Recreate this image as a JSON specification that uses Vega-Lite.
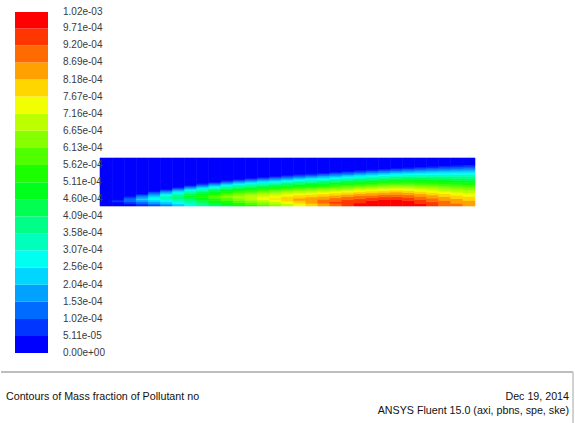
{
"$schema": "https://vega.github.io/schema/vega-lite/v6.json",
"width": 575, "height": 423,
"autosize": {"type": "fit", "contains": "padding"},
"padding": 0,
"background": "white",
"config": {"view": {"stroke": null}},
"datasets": {
"field": [
{"x":6,"lo":0,"hi":48,"no":2.6e-5},
{"x":18,"lo":0,"hi":4,"no":2.6e-5},{"x":18,"lo":4,"hi":6,"no":7.7e-5},{"x":18,"lo":6,"hi":48,"no":2.6e-5},
{"x":30,"lo":0,"hi":2.1,"no":2.6e-5},{"x":30,"lo":2.1,"hi":4.3,"no":7.7e-5},{"x":30,"lo":4.3,"hi":8,"no":1.28e-4},{"x":30,"lo":8,"hi":9.5,"no":7.7e-5},{"x":30,"lo":9.5,"hi":48,"no":2.6e-5},
{"x":42,"lo":0,"hi":0.7,"no":2.6e-5},{"x":42,"lo":0.7,"hi":2.5,"no":7.7e-5},{"x":42,"lo":2.5,"hi":4.3,"no":1.28e-4},{"x":42,"lo":4.3,"hi":6.1,"no":1.79e-4},{"x":42,"lo":6.1,"hi":7.4,"no":2.3e-4},{"x":42,"lo":7.4,"hi":9.4,"no":1.79e-4},{"x":42,"lo":9.4,"hi":10.8,"no":1.28e-4},{"x":42,"lo":10.8,"hi":12,"no":7.7e-5},{"x":42,"lo":12,"hi":48,"no":2.6e-5},
{"x":54,"lo":0,"hi":0.9,"no":7.7e-5},{"x":54,"lo":0.9,"hi":2.6,"no":1.28e-4},{"x":54,"lo":2.6,"hi":4.4,"no":1.79e-4},{"x":54,"lo":4.4,"hi":6.1,"no":2.3e-4},{"x":54,"lo":6.1,"hi":8.7,"no":2.82e-4},{"x":54,"lo":8.7,"hi":10.6,"no":2.3e-4},{"x":54,"lo":10.6,"hi":12.1,"no":1.79e-4},{"x":54,"lo":12.1,"hi":13.4,"no":1.28e-4},{"x":54,"lo":13.4,"hi":14.5,"no":7.7e-5},{"x":54,"lo":14.5,"hi":48,"no":2.6e-5},
{"x":66,"lo":0,"hi":0.9,"no":1.28e-4},{"x":66,"lo":0.9,"hi":2.8,"no":1.79e-4},{"x":66,"lo":2.8,"hi":4.7,"no":2.3e-4},{"x":66,"lo":4.7,"hi":6.5,"no":2.82e-4},{"x":66,"lo":6.5,"hi":10.3,"no":3.33e-4},{"x":66,"lo":10.3,"hi":11.9,"no":2.82e-4},{"x":66,"lo":11.9,"hi":13.2,"no":2.3e-4},{"x":66,"lo":13.2,"hi":14.4,"no":1.79e-4},{"x":66,"lo":14.4,"hi":15.5,"no":1.28e-4},{"x":66,"lo":15.5,"hi":16.5,"no":7.7e-5},{"x":66,"lo":16.5,"hi":48,"no":2.6e-5},
{"x":78,"lo":0,"hi":0.6,"no":1.79e-4},{"x":78,"lo":0.6,"hi":2.5,"no":2.3e-4},{"x":78,"lo":2.5,"hi":4.4,"no":2.82e-4},{"x":78,"lo":4.4,"hi":6.4,"no":3.33e-4},{"x":78,"lo":6.4,"hi":8.3,"no":3.84e-4},{"x":78,"lo":8.3,"hi":9.1,"no":4.35e-4},{"x":78,"lo":9.1,"hi":11.4,"no":3.84e-4},{"x":78,"lo":11.4,"hi":12.9,"no":3.33e-4},{"x":78,"lo":12.9,"hi":14.3,"no":2.82e-4},{"x":78,"lo":14.3,"hi":15.4,"no":2.3e-4},{"x":78,"lo":15.4,"hi":16.5,"no":1.79e-4},{"x":78,"lo":16.5,"hi":17.5,"no":1.28e-4},{"x":78,"lo":17.5,"hi":18.5,"no":7.7e-5},{"x":78,"lo":18.5,"hi":48,"no":2.6e-5},
{"x":90,"lo":0,"hi":2.1,"no":2.82e-4},{"x":90,"lo":2.1,"hi":4.2,"no":3.33e-4},{"x":90,"lo":4.2,"hi":6.3,"no":3.84e-4},{"x":90,"lo":6.3,"hi":8.4,"no":4.35e-4},{"x":90,"lo":8.4,"hi":10.3,"no":4.86e-4},{"x":90,"lo":10.3,"hi":12.4,"no":4.35e-4},{"x":90,"lo":12.4,"hi":13.9,"no":3.84e-4},{"x":90,"lo":13.9,"hi":15.2,"no":3.33e-4},{"x":90,"lo":15.2,"hi":16.4,"no":2.82e-4},{"x":90,"lo":16.4,"hi":17.5,"no":2.3e-4},{"x":90,"lo":17.5,"hi":18.6,"no":1.79e-4},{"x":90,"lo":18.6,"hi":19.6,"no":1.28e-4},{"x":90,"lo":19.6,"hi":20.5,"no":7.7e-5},{"x":90,"lo":20.5,"hi":48,"no":2.6e-5},
{"x":102,"lo":0,"hi":1.2,"no":3.33e-4},{"x":102,"lo":1.2,"hi":3.5,"no":3.84e-4},{"x":102,"lo":3.5,"hi":5.8,"no":4.35e-4},{"x":102,"lo":5.8,"hi":8.1,"no":4.86e-4},{"x":102,"lo":8.1,"hi":10.6,"no":5.37e-4},{"x":102,"lo":10.6,"hi":12.7,"no":4.86e-4},{"x":102,"lo":12.7,"hi":14.3,"no":4.35e-4},{"x":102,"lo":14.3,"hi":15.7,"no":3.84e-4},{"x":102,"lo":15.7,"hi":17,"no":3.33e-4},{"x":102,"lo":17,"hi":18.1,"no":2.82e-4},{"x":102,"lo":18.1,"hi":19.2,"no":2.3e-4},{"x":102,"lo":19.2,"hi":20.3,"no":1.79e-4},{"x":102,"lo":20.3,"hi":21.3,"no":1.28e-4},{"x":102,"lo":21.3,"hi":22.2,"no":7.7e-5},{"x":102,"lo":22.2,"hi":48,"no":2.6e-5},
{"x":114,"lo":0,"hi":0.5,"no":3.84e-4},{"x":114,"lo":0.5,"hi":2.9,"no":4.35e-4},{"x":114,"lo":2.9,"hi":5.4,"no":4.86e-4},{"x":114,"lo":5.4,"hi":7.8,"no":5.37e-4},{"x":114,"lo":7.8,"hi":11,"no":5.88e-4},{"x":114,"lo":11,"hi":13,"no":5.37e-4},{"x":114,"lo":13,"hi":14.7,"no":4.86e-4},{"x":114,"lo":14.7,"hi":16.1,"no":4.35e-4},{"x":114,"lo":16.1,"hi":17.4,"no":3.84e-4},{"x":114,"lo":17.4,"hi":18.6,"no":3.33e-4},{"x":114,"lo":18.6,"hi":19.7,"no":2.82e-4},{"x":114,"lo":19.7,"hi":20.8,"no":2.3e-4},{"x":114,"lo":20.8,"hi":21.9,"no":1.79e-4},{"x":114,"lo":21.9,"hi":22.9,"no":1.28e-4},{"x":114,"lo":22.9,"hi":23.8,"no":7.7e-5},{"x":114,"lo":23.8,"hi":48,"no":2.6e-5},
{"x":126,"lo":0,"hi":0.5,"no":4.35e-4},{"x":126,"lo":0.5,"hi":3,"no":4.86e-4},{"x":126,"lo":3,"hi":5.5,"no":5.37e-4},{"x":126,"lo":5.5,"hi":8,"no":5.88e-4},{"x":126,"lo":8,"hi":10.7,"no":6.39e-4},{"x":126,"lo":10.7,"hi":13,"no":5.88e-4},{"x":126,"lo":13,"hi":14.8,"no":5.37e-4},{"x":126,"lo":14.8,"hi":16.3,"no":4.86e-4},{"x":126,"lo":16.3,"hi":17.6,"no":4.35e-4},{"x":126,"lo":17.6,"hi":18.9,"no":3.84e-4},{"x":126,"lo":18.9,"hi":20.1,"no":3.33e-4},{"x":126,"lo":20.1,"hi":21.2,"no":2.82e-4},{"x":126,"lo":21.2,"hi":22.3,"no":2.3e-4},{"x":126,"lo":22.3,"hi":23.3,"no":1.79e-4},{"x":126,"lo":23.3,"hi":24.3,"no":1.28e-4},{"x":126,"lo":24.3,"hi":25.3,"no":7.7e-5},{"x":126,"lo":25.3,"hi":48,"no":2.6e-5},
{"x":138,"lo":0,"hi":0.9,"no":4.86e-4},{"x":138,"lo":0.9,"hi":3.3,"no":5.37e-4},{"x":138,"lo":3.3,"hi":5.7,"no":5.88e-4},{"x":138,"lo":5.7,"hi":8,"no":6.39e-4},{"x":138,"lo":8,"hi":9.7,"no":6.9e-4},{"x":138,"lo":9.7,"hi":12.3,"no":6.39e-4},{"x":138,"lo":12.3,"hi":14.2,"no":5.88e-4},{"x":138,"lo":14.2,"hi":15.9,"no":5.37e-4},{"x":138,"lo":15.9,"hi":17.3,"no":4.86e-4},{"x":138,"lo":17.3,"hi":18.7,"no":4.35e-4},{"x":138,"lo":18.7,"hi":20,"no":3.84e-4},{"x":138,"lo":20,"hi":21.2,"no":3.33e-4},{"x":138,"lo":21.2,"hi":22.3,"no":2.82e-4},{"x":138,"lo":22.3,"hi":23.4,"no":2.3e-4},{"x":138,"lo":23.4,"hi":24.5,"no":1.79e-4},{"x":138,"lo":24.5,"hi":25.5,"no":1.28e-4},{"x":138,"lo":25.5,"hi":26.5,"no":7.7e-5},{"x":138,"lo":26.5,"hi":48,"no":2.6e-5},
{"x":150,"lo":0,"hi":1.4,"no":5.37e-4},{"x":150,"lo":1.4,"hi":3.7,"no":5.88e-4},{"x":150,"lo":3.7,"hi":5.9,"no":6.39e-4},{"x":150,"lo":5.9,"hi":11.3,"no":6.9e-4},{"x":150,"lo":11.3,"hi":13.5,"no":6.39e-4},{"x":150,"lo":13.5,"hi":15.3,"no":5.88e-4},{"x":150,"lo":15.3,"hi":16.8,"no":5.37e-4},{"x":150,"lo":16.8,"hi":18.3,"no":4.86e-4},{"x":150,"lo":18.3,"hi":19.6,"no":4.35e-4},{"x":150,"lo":19.6,"hi":20.9,"no":3.84e-4},{"x":150,"lo":20.9,"hi":22.1,"no":3.33e-4},{"x":150,"lo":22.1,"hi":23.3,"no":2.82e-4},{"x":150,"lo":23.3,"hi":24.4,"no":2.3e-4},{"x":150,"lo":24.4,"hi":25.5,"no":1.79e-4},{"x":150,"lo":25.5,"hi":26.6,"no":1.28e-4},{"x":150,"lo":26.6,"hi":27.6,"no":7.7e-5},{"x":150,"lo":27.6,"hi":48,"no":2.6e-5},
{"x":162,"lo":0,"hi":1.6,"no":5.88e-4},{"x":162,"lo":1.6,"hi":4,"no":6.39e-4},{"x":162,"lo":4,"hi":6.3,"no":6.9e-4},{"x":162,"lo":6.3,"hi":9.8,"no":7.42e-4},{"x":162,"lo":9.8,"hi":12.4,"no":6.9e-4},{"x":162,"lo":12.4,"hi":14.4,"no":6.39e-4},{"x":162,"lo":14.4,"hi":16.1,"no":5.88e-4},{"x":162,"lo":16.1,"hi":17.6,"no":5.37e-4},{"x":162,"lo":17.6,"hi":19.1,"no":4.86e-4},{"x":162,"lo":19.1,"hi":20.5,"no":4.35e-4},{"x":162,"lo":20.5,"hi":21.8,"no":3.84e-4},{"x":162,"lo":21.8,"hi":23,"no":3.33e-4},{"x":162,"lo":23,"hi":24.2,"no":2.82e-4},{"x":162,"lo":24.2,"hi":25.4,"no":2.3e-4},{"x":162,"lo":25.4,"hi":26.5,"no":1.79e-4},{"x":162,"lo":26.5,"hi":27.6,"no":1.28e-4},{"x":162,"lo":27.6,"hi":28.6,"no":7.7e-5},{"x":162,"lo":28.6,"hi":48,"no":2.6e-5},
{"x":174,"lo":0,"hi":1.9,"no":6.39e-4},{"x":174,"lo":1.9,"hi":4.3,"no":6.9e-4},{"x":174,"lo":4.3,"hi":6.8,"no":7.42e-4},{"x":174,"lo":6.8,"hi":7.8,"no":7.93e-4},{"x":174,"lo":7.8,"hi":11.1,"no":7.42e-4},{"x":174,"lo":11.1,"hi":13.3,"no":6.9e-4},{"x":174,"lo":13.3,"hi":15.2,"no":6.39e-4},{"x":174,"lo":15.2,"hi":16.9,"no":5.88e-4},{"x":174,"lo":16.9,"hi":18.4,"no":5.37e-4},{"x":174,"lo":18.4,"hi":19.9,"no":4.86e-4},{"x":174,"lo":19.9,"hi":21.2,"no":4.35e-4},{"x":174,"lo":21.2,"hi":22.6,"no":3.84e-4},{"x":174,"lo":22.6,"hi":23.8,"no":3.33e-4},{"x":174,"lo":23.8,"hi":25,"no":2.82e-4},{"x":174,"lo":25,"hi":26.2,"no":2.3e-4},{"x":174,"lo":26.2,"hi":27.3,"no":1.79e-4},{"x":174,"lo":27.3,"hi":28.4,"no":1.28e-4},{"x":174,"lo":28.4,"hi":29.5,"no":7.7e-5},{"x":174,"lo":29.5,"hi":48,"no":2.6e-5},
{"x":186,"lo":0,"hi":2.3,"no":6.9e-4},{"x":186,"lo":2.3,"hi":4.8,"no":7.42e-4},{"x":186,"lo":4.8,"hi":9.7,"no":7.93e-4},{"x":186,"lo":9.7,"hi":12.2,"no":7.42e-4},{"x":186,"lo":12.2,"hi":14.2,"no":6.9e-4},{"x":186,"lo":14.2,"hi":16,"no":6.39e-4},{"x":186,"lo":16,"hi":17.7,"no":5.88e-4},{"x":186,"lo":17.7,"hi":19.2,"no":5.37e-4},{"x":186,"lo":19.2,"hi":20.7,"no":4.86e-4},{"x":186,"lo":20.7,"hi":22,"no":4.35e-4},{"x":186,"lo":22,"hi":23.4,"no":3.84e-4},{"x":186,"lo":23.4,"hi":24.6,"no":3.33e-4},{"x":186,"lo":24.6,"hi":25.8,"no":2.82e-4},{"x":186,"lo":25.8,"hi":27,"no":2.3e-4},{"x":186,"lo":27,"hi":28.2,"no":1.79e-4},{"x":186,"lo":28.2,"hi":29.3,"no":1.28e-4},{"x":186,"lo":29.3,"hi":30.4,"no":7.7e-5},{"x":186,"lo":30.4,"hi":48,"no":2.6e-5},
{"x":198,"lo":0,"hi":2.6,"no":7.42e-4},{"x":198,"lo":2.6,"hi":5.2,"no":7.93e-4},{"x":198,"lo":5.2,"hi":7.9,"no":8.44e-4},{"x":198,"lo":7.9,"hi":10.9,"no":7.93e-4},{"x":198,"lo":10.9,"hi":13.2,"no":7.42e-4},{"x":198,"lo":13.2,"hi":15.1,"no":6.9e-4},{"x":198,"lo":15.1,"hi":16.9,"no":6.39e-4},{"x":198,"lo":16.9,"hi":18.5,"no":5.88e-4},{"x":198,"lo":18.5,"hi":20,"no":5.37e-4},{"x":198,"lo":20,"hi":21.5,"no":4.86e-4},{"x":198,"lo":21.5,"hi":22.8,"no":4.35e-4},{"x":198,"lo":22.8,"hi":24.2,"no":3.84e-4},{"x":198,"lo":24.2,"hi":25.4,"no":3.33e-4},{"x":198,"lo":25.4,"hi":26.7,"no":2.82e-4},{"x":198,"lo":26.7,"hi":27.9,"no":2.3e-4},{"x":198,"lo":27.9,"hi":29.1,"no":1.79e-4},{"x":198,"lo":29.1,"hi":30.2,"no":1.28e-4},{"x":198,"lo":30.2,"hi":31.3,"no":7.7e-5},{"x":198,"lo":31.3,"hi":48,"no":2.6e-5},
{"x":210,"lo":0,"hi":2.6,"no":7.93e-4},{"x":210,"lo":2.6,"hi":9,"no":8.44e-4},{"x":210,"lo":9,"hi":11.6,"no":7.93e-4},{"x":210,"lo":11.6,"hi":13.7,"no":7.42e-4},{"x":210,"lo":13.7,"hi":15.6,"no":6.9e-4},{"x":210,"lo":15.6,"hi":17.4,"no":6.39e-4},{"x":210,"lo":17.4,"hi":19,"no":5.88e-4},{"x":210,"lo":19,"hi":20.5,"no":5.37e-4},{"x":210,"lo":20.5,"hi":22,"no":4.86e-4},{"x":210,"lo":22,"hi":23.4,"no":4.35e-4},{"x":210,"lo":23.4,"hi":24.8,"no":3.84e-4},{"x":210,"lo":24.8,"hi":26.1,"no":3.33e-4},{"x":210,"lo":26.1,"hi":27.3,"no":2.82e-4},{"x":210,"lo":27.3,"hi":28.6,"no":2.3e-4},{"x":210,"lo":28.6,"hi":29.8,"no":1.79e-4},{"x":210,"lo":29.8,"hi":30.9,"no":1.28e-4},{"x":210,"lo":30.9,"hi":32.1,"no":7.7e-5},{"x":210,"lo":32.1,"hi":48,"no":2.6e-5},
{"x":222,"lo":0,"hi":2.7,"no":8.44e-4},{"x":222,"lo":2.7,"hi":6.8,"no":8.95e-4},{"x":222,"lo":6.8,"hi":9.8,"no":8.44e-4},{"x":222,"lo":9.8,"hi":12.2,"no":7.93e-4},{"x":222,"lo":12.2,"hi":14.3,"no":7.42e-4},{"x":222,"lo":14.3,"hi":16.2,"no":6.9e-4},{"x":222,"lo":16.2,"hi":17.9,"no":6.39e-4},{"x":222,"lo":17.9,"hi":19.5,"no":5.88e-4},{"x":222,"lo":19.5,"hi":21.1,"no":5.37e-4},{"x":222,"lo":21.1,"hi":22.6,"no":4.86e-4},{"x":222,"lo":22.6,"hi":24,"no":4.35e-4},{"x":222,"lo":24,"hi":25.4,"no":3.84e-4},{"x":222,"lo":25.4,"hi":26.7,"no":3.33e-4},{"x":222,"lo":26.7,"hi":28,"no":2.82e-4},{"x":222,"lo":28,"hi":29.3,"no":2.3e-4},{"x":222,"lo":29.3,"hi":30.5,"no":1.79e-4},{"x":222,"lo":30.5,"hi":31.7,"no":1.28e-4},{"x":222,"lo":31.7,"hi":32.9,"no":7.7e-5},{"x":222,"lo":32.9,"hi":48,"no":2.6e-5},
{"x":234,"lo":0,"hi":2.5,"no":8.95e-4},{"x":234,"lo":2.5,"hi":4.6,"no":9.46e-4},{"x":234,"lo":4.6,"hi":8.2,"no":8.95e-4},{"x":234,"lo":8.2,"hi":10.8,"no":8.44e-4},{"x":234,"lo":10.8,"hi":13,"no":7.93e-4},{"x":234,"lo":13,"hi":15,"no":7.42e-4},{"x":234,"lo":15,"hi":16.8,"no":6.9e-4},{"x":234,"lo":16.8,"hi":18.5,"no":6.39e-4},{"x":234,"lo":18.5,"hi":20.2,"no":5.88e-4},{"x":234,"lo":20.2,"hi":21.8,"no":5.37e-4},{"x":234,"lo":21.8,"hi":23.2,"no":4.86e-4},{"x":234,"lo":23.2,"hi":24.7,"no":4.35e-4},{"x":234,"lo":24.7,"hi":26.1,"no":3.84e-4},{"x":234,"lo":26.1,"hi":27.4,"no":3.33e-4},{"x":234,"lo":27.4,"hi":28.7,"no":2.82e-4},{"x":234,"lo":28.7,"hi":30,"no":2.3e-4},{"x":234,"lo":30,"hi":31.3,"no":1.79e-4},{"x":234,"lo":31.3,"hi":32.5,"no":1.28e-4},{"x":234,"lo":32.5,"hi":33.7,"no":7.7e-5},{"x":234,"lo":33.7,"hi":48,"no":2.6e-5},
{"x":246,"lo":0,"hi":6.4,"no":9.46e-4},{"x":246,"lo":6.4,"hi":9.3,"no":8.95e-4},{"x":246,"lo":9.3,"hi":11.7,"no":8.44e-4},{"x":246,"lo":11.7,"hi":13.8,"no":7.93e-4},{"x":246,"lo":13.8,"hi":15.7,"no":7.42e-4},{"x":246,"lo":15.7,"hi":17.5,"no":6.9e-4},{"x":246,"lo":17.5,"hi":19.2,"no":6.39e-4},{"x":246,"lo":19.2,"hi":20.8,"no":5.88e-4},{"x":246,"lo":20.8,"hi":22.4,"no":5.37e-4},{"x":246,"lo":22.4,"hi":23.9,"no":4.86e-4},{"x":246,"lo":23.9,"hi":25.3,"no":4.35e-4},{"x":246,"lo":25.3,"hi":26.8,"no":3.84e-4},{"x":246,"lo":26.8,"hi":28.1,"no":3.33e-4},{"x":246,"lo":28.1,"hi":29.5,"no":2.82e-4},{"x":246,"lo":29.5,"hi":30.8,"no":2.3e-4},{"x":246,"lo":30.8,"hi":32,"no":1.79e-4},{"x":246,"lo":32,"hi":33.3,"no":1.28e-4},{"x":246,"lo":33.3,"hi":34.5,"no":7.7e-5},{"x":246,"lo":34.5,"hi":48,"no":2.6e-5},
{"x":258,"lo":0,"hi":3,"no":9.96e-4},{"x":258,"lo":3,"hi":7.2,"no":9.46e-4},{"x":258,"lo":7.2,"hi":10.3,"no":8.95e-4},{"x":258,"lo":10.3,"hi":12.5,"no":8.44e-4},{"x":258,"lo":12.5,"hi":14.5,"no":7.93e-4},{"x":258,"lo":14.5,"hi":16.4,"no":7.42e-4},{"x":258,"lo":16.4,"hi":18.2,"no":6.9e-4},{"x":258,"lo":18.2,"hi":19.9,"no":6.39e-4},{"x":258,"lo":19.9,"hi":21.5,"no":5.88e-4},{"x":258,"lo":21.5,"hi":23.1,"no":5.37e-4},{"x":258,"lo":23.1,"hi":24.6,"no":4.86e-4},{"x":258,"lo":24.6,"hi":26,"no":4.35e-4},{"x":258,"lo":26,"hi":27.5,"no":3.84e-4},{"x":258,"lo":27.5,"hi":28.9,"no":3.33e-4},{"x":258,"lo":28.9,"hi":30.2,"no":2.82e-4},{"x":258,"lo":30.2,"hi":31.5,"no":2.3e-4},{"x":258,"lo":31.5,"hi":32.8,"no":1.79e-4},{"x":258,"lo":32.8,"hi":34.1,"no":1.28e-4},{"x":258,"lo":34.1,"hi":35.3,"no":7.7e-5},{"x":258,"lo":35.3,"hi":48,"no":2.6e-5},
{"x":270,"lo":0,"hi":5.4,"no":9.96e-4},{"x":270,"lo":5.4,"hi":8.3,"no":9.46e-4},{"x":270,"lo":8.3,"hi":10.7,"no":8.95e-4},{"x":270,"lo":10.7,"hi":13,"no":8.44e-4},{"x":270,"lo":13,"hi":15,"no":7.93e-4},{"x":270,"lo":15,"hi":16.9,"no":7.42e-4},{"x":270,"lo":16.9,"hi":18.7,"no":6.9e-4},{"x":270,"lo":18.7,"hi":20.4,"no":6.39e-4},{"x":270,"lo":20.4,"hi":22,"no":5.88e-4},{"x":270,"lo":22,"hi":23.6,"no":5.37e-4},{"x":270,"lo":23.6,"hi":25.1,"no":4.86e-4},{"x":270,"lo":25.1,"hi":26.6,"no":4.35e-4},{"x":270,"lo":26.6,"hi":28.1,"no":3.84e-4},{"x":270,"lo":28.1,"hi":29.5,"no":3.33e-4},{"x":270,"lo":29.5,"hi":30.9,"no":2.82e-4},{"x":270,"lo":30.9,"hi":32.2,"no":2.3e-4},{"x":270,"lo":32.2,"hi":33.5,"no":1.79e-4},{"x":270,"lo":33.5,"hi":34.8,"no":1.28e-4},{"x":270,"lo":34.8,"hi":36.1,"no":7.7e-5},{"x":270,"lo":36.1,"hi":48,"no":2.6e-5},
{"x":282,"lo":0,"hi":6.4,"no":9.96e-4},{"x":282,"lo":6.4,"hi":9.1,"no":9.46e-4},{"x":282,"lo":9.1,"hi":11.5,"no":8.95e-4},{"x":282,"lo":11.5,"hi":13.7,"no":8.44e-4},{"x":282,"lo":13.7,"hi":15.7,"no":7.93e-4},{"x":282,"lo":15.7,"hi":17.6,"no":7.42e-4},{"x":282,"lo":17.6,"hi":19.4,"no":6.9e-4},{"x":282,"lo":19.4,"hi":21.1,"no":6.39e-4},{"x":282,"lo":21.1,"hi":22.7,"no":5.88e-4},{"x":282,"lo":22.7,"hi":24.3,"no":5.37e-4},{"x":282,"lo":24.3,"hi":25.8,"no":4.86e-4},{"x":282,"lo":25.8,"hi":27.3,"no":4.35e-4},{"x":282,"lo":27.3,"hi":28.8,"no":3.84e-4},{"x":282,"lo":28.8,"hi":30.2,"no":3.33e-4},{"x":282,"lo":30.2,"hi":31.6,"no":2.82e-4},{"x":282,"lo":31.6,"hi":32.9,"no":2.3e-4},{"x":282,"lo":32.9,"hi":34.2,"no":1.79e-4},{"x":282,"lo":34.2,"hi":35.5,"no":1.28e-4},{"x":282,"lo":35.5,"hi":36.8,"no":7.7e-5},{"x":282,"lo":36.8,"hi":48,"no":2.6e-5},
{"x":294,"lo":0,"hi":6.5,"no":9.96e-4},{"x":294,"lo":6.5,"hi":9.3,"no":9.46e-4},{"x":294,"lo":9.3,"hi":11.7,"no":8.95e-4},{"x":294,"lo":11.7,"hi":14,"no":8.44e-4},{"x":294,"lo":14,"hi":16,"no":7.93e-4},{"x":294,"lo":16,"hi":17.9,"no":7.42e-4},{"x":294,"lo":17.9,"hi":19.7,"no":6.9e-4},{"x":294,"lo":19.7,"hi":21.5,"no":6.39e-4},{"x":294,"lo":21.5,"hi":23.1,"no":5.88e-4},{"x":294,"lo":23.1,"hi":24.8,"no":5.37e-4},{"x":294,"lo":24.8,"hi":26.3,"no":4.86e-4},{"x":294,"lo":26.3,"hi":27.8,"no":4.35e-4},{"x":294,"lo":27.8,"hi":29.3,"no":3.84e-4},{"x":294,"lo":29.3,"hi":30.8,"no":3.33e-4},{"x":294,"lo":30.8,"hi":32.2,"no":2.82e-4},{"x":294,"lo":32.2,"hi":33.5,"no":2.3e-4},{"x":294,"lo":33.5,"hi":34.9,"no":1.79e-4},{"x":294,"lo":34.9,"hi":36.2,"no":1.28e-4},{"x":294,"lo":36.2,"hi":37.5,"no":7.7e-5},{"x":294,"lo":37.5,"hi":48,"no":2.6e-5},
{"x":306,"lo":0,"hi":5.3,"no":9.96e-4},{"x":306,"lo":5.3,"hi":8.5,"no":9.46e-4},{"x":306,"lo":8.5,"hi":11.1,"no":8.95e-4},{"x":306,"lo":11.1,"hi":13.5,"no":8.44e-4},{"x":306,"lo":13.5,"hi":15.7,"no":7.93e-4},{"x":306,"lo":15.7,"hi":17.7,"no":7.42e-4},{"x":306,"lo":17.7,"hi":19.6,"no":6.9e-4},{"x":306,"lo":19.6,"hi":21.4,"no":6.39e-4},{"x":306,"lo":21.4,"hi":23.2,"no":5.88e-4},{"x":306,"lo":23.2,"hi":24.8,"no":5.37e-4},{"x":306,"lo":24.8,"hi":26.5,"no":4.86e-4},{"x":306,"lo":26.5,"hi":28,"no":4.35e-4},{"x":306,"lo":28,"hi":29.6,"no":3.84e-4},{"x":306,"lo":29.6,"hi":31.1,"no":3.33e-4},{"x":306,"lo":31.1,"hi":32.5,"no":2.82e-4},{"x":306,"lo":32.5,"hi":34,"no":2.3e-4},{"x":306,"lo":34,"hi":35.4,"no":1.79e-4},{"x":306,"lo":35.4,"hi":36.8,"no":1.28e-4},{"x":306,"lo":36.8,"hi":38.1,"no":7.7e-5},{"x":306,"lo":38.1,"hi":48,"no":2.6e-5},
{"x":318,"lo":0,"hi":2.5,"no":9.96e-4},{"x":318,"lo":2.5,"hi":6.6,"no":9.46e-4},{"x":318,"lo":6.6,"hi":9.7,"no":8.95e-4},{"x":318,"lo":9.7,"hi":12.4,"no":8.44e-4},{"x":318,"lo":12.4,"hi":14.7,"no":7.93e-4},{"x":318,"lo":14.7,"hi":17,"no":7.42e-4},{"x":318,"lo":17,"hi":19,"no":6.9e-4},{"x":318,"lo":19,"hi":21,"no":6.39e-4},{"x":318,"lo":21,"hi":22.8,"no":5.88e-4},{"x":318,"lo":22.8,"hi":24.7,"no":5.37e-4},{"x":318,"lo":24.7,"hi":26.4,"no":4.86e-4},{"x":318,"lo":26.4,"hi":28.1,"no":4.35e-4},{"x":318,"lo":28.1,"hi":29.7,"no":3.84e-4},{"x":318,"lo":29.7,"hi":31.3,"no":3.33e-4},{"x":318,"lo":31.3,"hi":32.8,"no":2.82e-4},{"x":318,"lo":32.8,"hi":34.3,"no":2.3e-4},{"x":318,"lo":34.3,"hi":35.8,"no":1.79e-4},{"x":318,"lo":35.8,"hi":37.3,"no":1.28e-4},{"x":318,"lo":37.3,"hi":38.7,"no":7.7e-5},{"x":318,"lo":38.7,"hi":48,"no":2.6e-5},
{"x":330,"lo":0,"hi":4.1,"no":9.46e-4},{"x":330,"lo":4.1,"hi":7.9,"no":8.95e-4},{"x":330,"lo":7.9,"hi":11,"no":8.44e-4},{"x":330,"lo":11,"hi":13.6,"no":7.93e-4},{"x":330,"lo":13.6,"hi":16.1,"no":7.42e-4},{"x":330,"lo":16.1,"hi":18.3,"no":6.9e-4},{"x":330,"lo":18.3,"hi":20.4,"no":6.39e-4},{"x":330,"lo":20.4,"hi":22.4,"no":5.88e-4},{"x":330,"lo":22.4,"hi":24.4,"no":5.37e-4},{"x":330,"lo":24.4,"hi":26.2,"no":4.86e-4},{"x":330,"lo":26.2,"hi":28,"no":4.35e-4},{"x":330,"lo":28,"hi":29.8,"no":3.84e-4},{"x":330,"lo":29.8,"hi":31.4,"no":3.33e-4},{"x":330,"lo":31.4,"hi":33.1,"no":2.82e-4},{"x":330,"lo":33.1,"hi":34.7,"no":2.3e-4},{"x":330,"lo":34.7,"hi":36.2,"no":1.79e-4},{"x":330,"lo":36.2,"hi":37.8,"no":1.28e-4},{"x":330,"lo":37.8,"hi":39.3,"no":7.7e-5},{"x":330,"lo":39.3,"hi":48,"no":2.6e-5},
{"x":342,"lo":0,"hi":5.6,"no":8.95e-4},{"x":342,"lo":5.6,"hi":9.3,"no":8.44e-4},{"x":342,"lo":9.3,"hi":12.3,"no":7.93e-4},{"x":342,"lo":12.3,"hi":15,"no":7.42e-4},{"x":342,"lo":15,"hi":17.4,"no":6.9e-4},{"x":342,"lo":17.4,"hi":19.7,"no":6.39e-4},{"x":342,"lo":19.7,"hi":21.9,"no":5.88e-4},{"x":342,"lo":21.9,"hi":24,"no":5.37e-4},{"x":342,"lo":24,"hi":26,"no":4.86e-4},{"x":342,"lo":26,"hi":27.9,"no":4.35e-4},{"x":342,"lo":27.9,"hi":29.7,"no":3.84e-4},{"x":342,"lo":29.7,"hi":31.5,"no":3.33e-4},{"x":342,"lo":31.5,"hi":33.2,"no":2.82e-4},{"x":342,"lo":33.2,"hi":34.9,"no":2.3e-4},{"x":342,"lo":34.9,"hi":36.6,"no":1.79e-4},{"x":342,"lo":36.6,"hi":38.2,"no":1.28e-4},{"x":342,"lo":38.2,"hi":39.8,"no":7.7e-5},{"x":342,"lo":39.8,"hi":48,"no":2.6e-5},
{"x":354,"lo":0,"hi":2.8,"no":8.95e-4},{"x":354,"lo":2.8,"hi":7.5,"no":8.44e-4},{"x":354,"lo":7.5,"hi":10.9,"no":7.93e-4},{"x":354,"lo":10.9,"hi":13.9,"no":7.42e-4},{"x":354,"lo":13.9,"hi":16.6,"no":6.9e-4},{"x":354,"lo":16.6,"hi":19.1,"no":6.39e-4},{"x":354,"lo":19.1,"hi":21.4,"no":5.88e-4},{"x":354,"lo":21.4,"hi":23.6,"no":5.37e-4},{"x":354,"lo":23.6,"hi":25.7,"no":4.86e-4},{"x":354,"lo":25.7,"hi":27.7,"no":4.35e-4},{"x":354,"lo":27.7,"hi":29.7,"no":3.84e-4},{"x":354,"lo":29.7,"hi":31.6,"no":3.33e-4},{"x":354,"lo":31.6,"hi":33.4,"no":2.82e-4},{"x":354,"lo":33.4,"hi":35.2,"no":2.3e-4},{"x":354,"lo":35.2,"hi":36.9,"no":1.79e-4},{"x":354,"lo":36.9,"hi":38.7,"no":1.28e-4},{"x":354,"lo":38.7,"hi":40.3,"no":7.7e-5},{"x":354,"lo":40.3,"hi":48,"no":2.6e-5},
{"x":366,"lo":0,"hi":5.6,"no":8.44e-4},{"x":366,"lo":5.6,"hi":9.6,"no":7.93e-4},{"x":366,"lo":9.6,"hi":12.9,"no":7.42e-4},{"x":366,"lo":12.9,"hi":15.8,"no":6.9e-4},{"x":366,"lo":15.8,"hi":18.4,"no":6.39e-4},{"x":366,"lo":18.4,"hi":20.9,"no":5.88e-4},{"x":366,"lo":20.9,"hi":23.3,"no":5.37e-4},{"x":366,"lo":23.3,"hi":25.5,"no":4.86e-4},{"x":366,"lo":25.5,"hi":27.6,"no":4.35e-4},{"x":366,"lo":27.6,"hi":29.7,"no":3.84e-4},{"x":366,"lo":29.7,"hi":31.7,"no":3.33e-4},{"x":366,"lo":31.7,"hi":33.6,"no":2.82e-4},{"x":366,"lo":33.6,"hi":35.5,"no":2.3e-4},{"x":366,"lo":35.5,"hi":37.3,"no":1.79e-4},{"x":366,"lo":37.3,"hi":39.1,"no":1.28e-4},{"x":366,"lo":39.1,"hi":40.8,"no":7.7e-5},{"x":366,"lo":40.8,"hi":48,"no":2.6e-5}
],
"legend": [
{"no":0,"top":5.11e-5,"label":"0.00e+00"},
{"no":5.11e-5,"top":1.02e-4,"label":"5.11e-05"},
{"no":1.02e-4,"top":1.53e-4,"label":"1.02e-04"},
{"no":1.53e-4,"top":2.04e-4,"label":"1.53e-04"},
{"no":2.04e-4,"top":2.56e-4,"label":"2.04e-04"},
{"no":2.56e-4,"top":3.07e-4,"label":"2.56e-04"},
{"no":3.07e-4,"top":3.58e-4,"label":"3.07e-04"},
{"no":3.58e-4,"top":4.09e-4,"label":"3.58e-04"},
{"no":4.09e-4,"top":4.60e-4,"label":"4.09e-04"},
{"no":4.60e-4,"top":5.11e-4,"label":"4.60e-04"},
{"no":5.11e-4,"top":5.62e-4,"label":"5.11e-04"},
{"no":5.62e-4,"top":6.13e-4,"label":"5.62e-04"},
{"no":6.13e-4,"top":6.65e-4,"label":"6.13e-04"},
{"no":6.65e-4,"top":7.16e-4,"label":"6.65e-04"},
{"no":7.16e-4,"top":7.67e-4,"label":"7.16e-04"},
{"no":7.67e-4,"top":8.18e-4,"label":"7.67e-04"},
{"no":8.18e-4,"top":8.69e-4,"label":"8.18e-04"},
{"no":8.69e-4,"top":9.20e-4,"label":"8.69e-04"},
{"no":9.20e-4,"top":9.71e-4,"label":"9.20e-04"},
{"no":9.71e-4,"top":1.02e-3,"label":"9.71e-04"},
{"no":1.02e-3,"top":null,"label":"1.02e-03"}
],
"footer": [
{"side":"left","line":1,"text":"Contours of Mass fraction of Pollutant no"},
{"side":"right","line":1,"text":"Dec 19, 2014"},
{"side":"right","line":2,"text":"ANSYS Fluent 15.0 (axi, pbns, spe, ske)"}
],
"frame": [{"edge":"top"},{"edge":"right"}]
},
"layer": [
{
"data": {"name": "field"},
"mark": {"type": "rect", "strokeWidth": 0.6},
"encoding": {
"x": {"field": "x", "type": "ordinal", "axis": null, "scale": {"range": [99, 474], "paddingInner": 0, "paddingOuter": 0}},
"y": {"field": "lo", "type": "quantitative", "axis": null, "scale": {"domain": [0, 48], "range": [206, 158], "nice": false, "zero": false}},
"y2": {"field": "hi"},
"color": {"field": "no", "type": "quantitative", "legend": null, "scale": {"type": "threshold", "domain": [5.11e-5,1.02e-4,1.53e-4,2.04e-4,2.56e-4,3.07e-4,3.58e-4,4.09e-4,4.60e-4,5.11e-4,5.62e-4,6.13e-4,6.65e-4,7.16e-4,7.67e-4,8.18e-4,8.69e-4,9.20e-4,9.71e-4], "range": ["#0000ff","#0036ff","#006bff","#00a1ff","#00d6ff","#00fff1","#00ffbc","#00ff86","#00ff50","#00ff1b","#1bff00","#50ff00","#86ff00","#bcff00","#f1ff00","#ffd600","#ffa100","#ff6b00","#ff3600","#ff0000"]}},
"stroke": {"field": "no", "type": "quantitative", "legend": null, "scale": {"type": "threshold", "domain": [5.11e-5,1.02e-4,1.53e-4,2.04e-4,2.56e-4,3.07e-4,3.58e-4,4.09e-4,4.60e-4,5.11e-4,5.62e-4,6.13e-4,6.65e-4,7.16e-4,7.67e-4,8.18e-4,8.69e-4,9.20e-4,9.71e-4], "range": ["#0000ff","#0036ff","#006bff","#00a1ff","#00d6ff","#00fff1","#00ffbc","#00ff86","#00ff50","#00ff1b","#1bff00","#50ff00","#86ff00","#bcff00","#f1ff00","#ffd600","#ffa100","#ff6b00","#ff3600","#ff0000"]}}
}
},
{
"data": {"name": "legend"},
"layer": [
{
"transform": [{"filter": "datum.top != null"}],
"mark": {"type": "rect"},
"encoding": {
"x": {"datum": 0, "type": "quantitative", "axis": null, "scale": {"domain": [0, 1], "range": [14, 47], "nice": false, "zero": false}},
"x2": {"datum": 1},
"y": {"field": "no", "type": "quantitative", "axis": null, "scale": {"domain": [0, 0.00102], "range": [353, 12], "nice": false, "zero": false}},
"y2": {"field": "top"},
"color": {"field": "no", "type": "quantitative", "legend": null, "scale": {"type": "threshold", "domain": [5.11e-5,1.02e-4,1.53e-4,2.04e-4,2.56e-4,3.07e-4,3.58e-4,4.09e-4,4.60e-4,5.11e-4,5.62e-4,6.13e-4,6.65e-4,7.16e-4,7.67e-4,8.18e-4,8.69e-4,9.20e-4,9.71e-4], "range": ["#0000ff","#0036ff","#006bff","#00a1ff","#00d6ff","#00fff1","#00ffbc","#00ff86","#00ff50","#00ff1b","#1bff00","#50ff00","#86ff00","#bcff00","#f1ff00","#ffd600","#ffa100","#ff6b00","#ff3600","#ff0000"]}}
}
},
{
"mark": {"type": "text", "align": "left", "baseline": "middle", "dx": 15, "font": "Liberation Sans", "fontSize": 10, "color": "#3a3a3a"},
"encoding": {
"x": {"datum": 1, "type": "quantitative"},
"y": {"field": "no", "type": "quantitative"},
"text": {"field": "label"}
}
}
]
},
{
"data": {"name": "footer"},
"encoding": {
"x": {"field": "side", "type": "nominal", "axis": null, "scale": {"type": "point", "domain": ["left", "right"], "range": [5, 568], "padding": 0}},
"y": {"field": "line", "type": "ordinal", "axis": null, "scale": {"type": "point", "domain": [1, 2], "range": [397, 411], "padding": 0}},
"text": {"field": "text"}
},
"layer": [
{"transform": [{"filter": "datum.side == 'left'"}], "mark": {"type": "text", "align": "left", "baseline": "middle", "font": "Liberation Sans", "fontSize": 10.7, "color": "#111111"}},
{"transform": [{"filter": "datum.side == 'right'"}], "mark": {"type": "text", "align": "right", "baseline": "middle", "font": "Liberation Sans", "fontSize": 10.7, "color": "#111111"}}
]
},
{
"data": {"name": "frame"},
"layer": [
{
"transform": [{"filter": "datum.edge == 'top'"}],
"mark": {"type": "rule", "color": "#a8a8a8", "strokeWidth": 1.5},
"encoding": {
"x": {"datum": 0, "type": "quantitative", "axis": null, "scale": {"domain": [0, 1], "range": [0, 572], "nice": false, "zero": false}},
"x2": {"datum": 1},
"y": {"datum": 0, "type": "quantitative", "axis": null, "scale": {"domain": [0, 1], "range": [372, 423], "nice": false, "zero": false}}
}
},
{
"transform": [{"filter": "datum.edge == 'right'"}],
"mark": {"type": "rule", "color": "#b4b4b4", "strokeWidth": 1.2},
"encoding": {
"x": {"datum": 1, "type": "quantitative"},
"y": {"datum": 0, "type": "quantitative"},
"y2": {"datum": 1}
}
}
]
}
],
"resolve": {"scale": {"x": "independent", "y": "independent"}}
}
